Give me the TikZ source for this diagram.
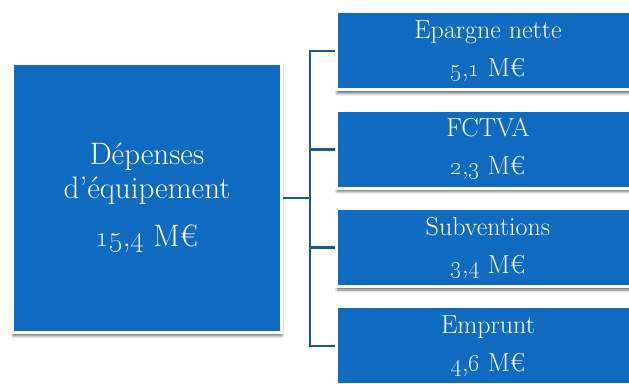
\documentclass[tikz,border=0pt]{standalone}
\usepackage{tikz}
\usetikzlibrary{positioning, calc, shadows.blur}
\definecolor{DEPBlue}{RGB}{16, 106, 192}
\definecolor{DEPLine}{RGB}{30, 88, 150}
\definecolor{DEPShadow}{RGB}{90, 96, 108}

\newcommand{\meuro}[2]{\oldstylenums{#1},\oldstylenums{#2}~M€}

\begin{document}
\begin{tikzpicture}[x=1pt, y=1pt,
    bluebox/.style={fill=DEPBlue, draw=white, line width=3pt, text=white, align=center,
      blur shadow={shadow xshift=0.5pt, shadow yshift=-3.5pt, shadow blur radius=2.5pt,
        shadow opacity=55}},
    srcbox/.style={bluebox, minimum width=303pt, minimum height=78pt,
      font=\fontsize{26}{26}\selectfont},
    link/.style={draw=DEPLine, line width=2.5pt}]
    \useasboundingbox (0,0) rectangle (629,383);
    \clip (0,0) rectangle (629,383);

    % total
    \node[bluebox, minimum width=269pt, minimum height=269pt,
          font=\fontsize{31}{34}\selectfont] (depenses) at (147,185)
      {Dépenses\\d’équipement\\[14pt]\meuro{15}{4}};

    % sources
    \node[srcbox] (epargne) at (488,332) {Epargne nette\\[12pt]\meuro{5}{1}};
    \node[srcbox, below=17.3pt of epargne] (fctva) {FCTVA\\[12pt]\meuro{2}{3}};
    \node[srcbox, below=17.3pt of fctva] (subv) {Subventions\\[12pt]\meuro{3}{4}};
    \node[srcbox, below=17.3pt of subv] (emprunt) {Emprunt\\[12pt]\meuro{4}{6}};

    % connectors
    \coordinate[right=27pt of depenses.east] (fork);
    \draw[link] (depenses.east) -- (fork);
    \draw[link, line cap=rect] (fork |- epargne.west) -- (fork |- emprunt.west);
    \foreach \src in {epargne, fctva, subv, emprunt}
      \draw[link] (fork |- \src.west) -- (\src.west);
  \end{tikzpicture}
\end{document}
